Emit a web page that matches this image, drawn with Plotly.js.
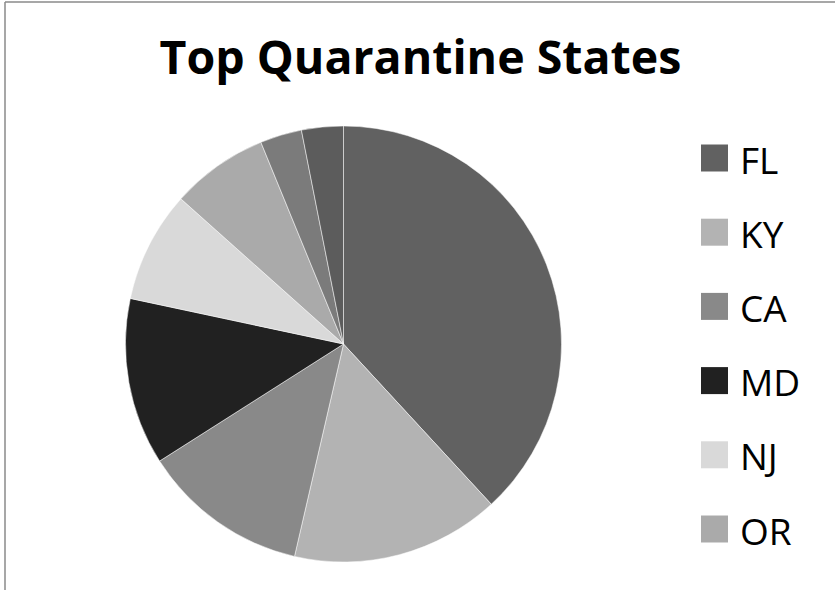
<!DOCTYPE html>
<html>
<head>
<meta charset="utf-8">
<script src="https://cdn.plot.ly/plotly-3.0.1.min.js"></script>
<style>
  html, body { margin: 0; padding: 0; background: #ffffff; overflow: hidden; }
  #chart { width: 835px; height: 590px; }
</style>
</head>
<body>
<div id="chart"></div>
<script>
// ---- data ----
const states = ["FL", "KY", "CA", "MD", "NJ", "OR", "State 7", "State 8"];
const counts = [37, 15, 12, 12, 8, 7, 3, 3];
const sliceColors = ["#616161", "#b3b3b3", "#898989", "#212121", "#d9d9d9", "#aaaaaa", "#7b7b7b", "#5c5c5c"];
const legendLabels = ["FL", "KY", "CA", "MD", "NJ", "OR"];
const chartTitle = "Top Quarantine States";

// ---- layout helpers (pixel -> paper) ----
const W = 835, H = 590;
const px = v => v / W;
const py = v => 1 - v / H;

const cx = 343.5, cy = 344, r = 218;

const pie = {
  type: "pie",
  labels: states,
  values: counts,
  sort: false,
  direction: "clockwise",
  rotation: 0,
  textinfo: "none",
  hoverinfo: "label+value+percent",
  showlegend: false,
  marker: { colors: sliceColors, line: { color: "#ffffff", width: 0.5 } },
  domain: { x: [px(cx - r), px(cx + r)], y: [py(cy + r), py(cy - r)] }
};

const shapes = [
  { type: "line", xref: "paper", yref: "paper", x0: px(5), x1: px(5), y0: py(2), y1: py(H + 5),
    line: { color: "#8a8a8a", width: 1.5 } },
  { type: "line", xref: "paper", yref: "paper", x0: px(5), x1: px(W + 5), y0: py(2), y1: py(2),
    line: { color: "#8a8a8a", width: 1.5 } }
];
const annotations = [];
const legTop = 158, legStep = 74.2, sq = 27;
legendLabels.forEach((lab, i) => {
  const yc = legTop + i * legStep;
  const idx = states.indexOf(lab);
  shapes.push({
    type: "rect", xref: "paper", yref: "paper",
    x0: px(701), x1: px(701 + sq), y0: py(yc + sq / 2), y1: py(yc - sq / 2),
    fillcolor: sliceColors[idx], line: { width: 0 }
  });
  annotations.push({
    xref: "paper", yref: "paper", x: px(738), y: py(yc + 1),
    xanchor: "left", yanchor: "middle", showarrow: false,
    text: lab, font: { family: "Open Sans, sans-serif", size: 37, color: "#000000" }
  });
});

const layout = {
  width: W, height: H,
  margin: { l: 0, r: 0, t: 0, b: 0 },
  paper_bgcolor: "#ffffff",
  plot_bgcolor: "#ffffff",
  title: {
    text: "<b>" + chartTitle + "</b>",
    x: px(420.5), xanchor: "center", xref: "paper",
    y: py(57.5), yanchor: "middle", yref: "container",
    font: { family: "Open Sans, sans-serif", size: 46.5, color: "#000000" }
  },
  shapes: shapes,
  annotations: annotations
};

Plotly.newPlot("chart", [pie], layout, { displayModeBar: false, staticPlot: false });
</script>
</body>
</html>
